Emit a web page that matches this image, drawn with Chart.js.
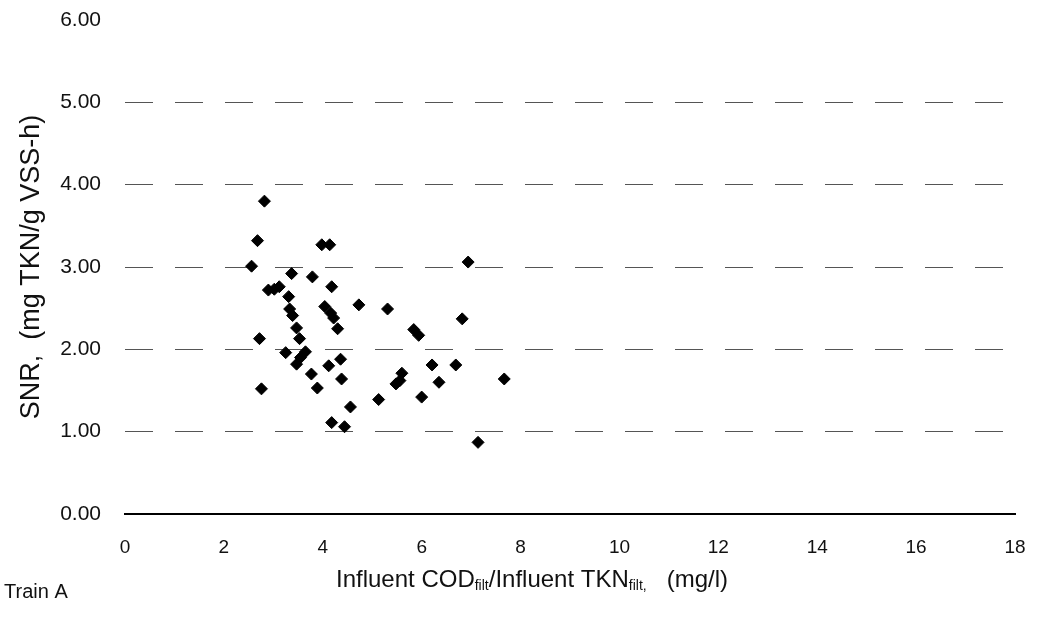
<!DOCTYPE html>
<html>
<head>
  <title>SNR vs Influent COD/TKN - Train A</title>
  <script src="https://cdn.jsdelivr.net/npm/chart.js@4.4.0/dist/chart.umd.min.js"></script>
  <style>
    body { margin: 0; background: #fff; }
  </style>
</head>
<body>
  <canvas id="snrChart" width="1038" height="620"></canvas>

<script>
// values
var codTknRatio = [2.82, 2.68, 2.56, 2.72, 2.76, 2.90, 3.02, 3.12, 3.37, 3.31,
                   3.33, 3.39, 3.47, 3.53, 3.25, 3.65, 3.55, 3.47, 3.77, 3.89,
                   3.79, 3.98, 4.14, 4.04, 4.16, 4.22, 4.18, 4.30, 4.12, 4.36,
                   4.38, 4.18, 4.44, 4.56, 4.73, 5.31, 5.13, 5.48, 5.60, 5.56,
                   5.84, 5.94, 6.00, 6.21, 6.35, 6.69, 6.82, 6.94, 7.14, 7.67];
var snrValues   = [3.80, 3.32, 3.01, 2.13, 1.52, 2.72, 2.73, 2.76, 2.92, 2.64,
                   2.49, 2.41, 2.26, 2.13, 1.96, 1.97, 1.90, 1.82, 1.70, 1.53,
                   2.88, 3.27, 3.27, 2.52, 2.44, 2.38, 2.76, 2.25, 1.80, 1.88,
                   1.64, 1.11, 1.06, 1.30, 2.54, 2.49, 1.39, 1.58, 1.71, 1.62,
                   2.24, 2.17, 1.42, 1.81, 1.60, 1.81, 2.37, 3.06, 0.87, 1.64];
var xTicks = [0, 2, 4, 6, 8, 10, 12, 14, 16, 18];
var yTicks = [0, 1, 2, 3, 4, 5, 6];

var xTitleParts = [
  { text: 'Influent COD', sub: false },
  { text: 'filt', sub: true },
  { text: '/Influent TKN', sub: false },
  { text: 'filt,', sub: true },
  { text: '   (mg/l)', sub: false }
];

var fontFamily = '"Liberation Sans", Arial, sans-serif';

var points = [];
for (var i = 0; i < codTknRatio.length; i++) {
  points.push({ x: codTknRatio[i], y: snrValues[i] });
}

// x title has subscripts, so draw it by hand, plus the "Train A" note
var extraText = {
  id: 'extraText',
  afterDraw: function(chart) {
    var ctx = chart.ctx;
    ctx.save();
    ctx.fillStyle = '#111';
    ctx.textBaseline = 'alphabetic';
    ctx.textAlign = 'left';

    var total = 0;
    xTitleParts.forEach(function(p) {
      ctx.font = (p.sub ? '14px ' : '24px ') + fontFamily;
      total += ctx.measureText(p.text).width;
    });
    var x = 532 - total / 2;
    var y = 587;
    xTitleParts.forEach(function(p) {
      ctx.font = (p.sub ? '14px ' : '24px ') + fontFamily;
      ctx.fillText(p.text, x, p.sub ? y + 3 : y);
      x += ctx.measureText(p.text).width;
    });

    ctx.font = '20px ' + fontFamily;
    ctx.fillText('Train A', 4, 598);
    ctx.restore();
  }
};

var ctx = document.getElementById('snrChart').getContext('2d');
new Chart(ctx, {
  type: 'scatter',
  data: {
    datasets: [{
      label: 'SNR',
      data: points,
      backgroundColor: '#000',
      borderColor: '#000',
      borderWidth: 1,
      pointStyle: 'rectRot',
      pointRadius: 6,
      pointHoverRadius: 6
    }]
  },
  options: {
    responsive: false,
    animation: false,
    layout: { padding: { left: 0, top: 20, right: 23, bottom: 0 } },
    plugins: {
      legend: { display: false },
      tooltip: { enabled: false }
    },
    scales: {
      x: {
        type: 'linear',
        min: 0,
        max: 18,
        afterFit: function(scale) {
          scale.height = 106;
          scale.paddingLeft = 0;
          scale.paddingRight = 0;
        },
        afterBuildTicks: function(scale) {
          scale.ticks = xTicks.map(function(v) { return { value: v }; });
        },
        grid: { display: false, drawTicks: false },
        border: { display: true, color: '#000', width: 2 },
        ticks: {
          padding: 22,
          color: '#111',
          font: { family: '"Liberation Sans Narrow", "Liberation Sans", Arial, sans-serif', size: 19 }
        }
      },
      y: {
        type: 'linear',
        min: 0,
        max: 6,
        afterFit: function(scale) {
          scale.width = 125;
          scale.paddingTop = 0;
          scale.paddingBottom = 0;
        },
        afterBuildTicks: function(scale) {
          scale.ticks = yTicks.map(function(v) { return { value: v }; });
        },
        grid: {
          drawTicks: false,
          color: function(c) {
            if (c.tick && (c.tick.value === 0 || c.tick.value === 6)) return 'rgba(0,0,0,0)';
            return '#555';
          },
          lineWidth: 1
        },
        border: { display: false, dash: [28, 22] },
        ticks: {
          padding: 24,
          color: '#111',
          font: { family: fontFamily, size: 21 },
          callback: function(v) { return v.toFixed(2); }
        },
        title: {
          display: true,
          text: 'SNR,  (mg TKN/g VSS-h)',
          color: '#111',
          padding: { top: 15, bottom: 0 },
          font: { family: fontFamily, size: 27 }
        }
      }
    }
  },
  plugins: [extraText]
});
</script>
</body>
</html>
